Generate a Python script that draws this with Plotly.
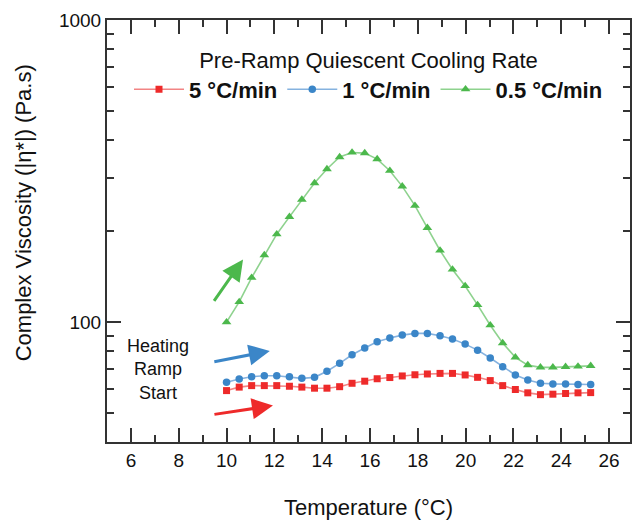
import math
import plotly.graph_objects as go

# ---- data ----
temperature = [10.0, 10.53, 11.05, 11.58, 12.1, 12.63, 13.15, 13.68, 14.2, 14.73,
               15.25, 15.78, 16.3, 16.83, 17.35, 17.88, 18.4, 18.93, 19.45, 19.98,
               20.5, 21.03, 21.55, 22.08, 22.6, 23.13, 23.65, 24.18, 24.7, 25.23]

visc_5 = [59.2, 60.8, 61.5, 61.5, 61.5, 61.2, 60.8, 60.3, 60.3, 61.0,
          62.6, 63.6, 64.8, 65.4, 66.2, 66.8, 67.2, 67.5, 67.5, 66.7,
          65.5, 63.9, 61.5, 59.7, 58.2, 57.4, 57.6, 57.9, 58.2, 58.3]

visc_1 = [63.1, 64.7, 65.8, 66.3, 66.3, 65.8, 65.0, 65.5, 68.6, 72.9,
          77.8, 81.9, 85.9, 88.4, 90.4, 91.6, 91.6, 89.9, 87.7, 84.4,
          80.6, 75.9, 71.0, 66.7, 64.2, 62.6, 62.3, 62.3, 62.0, 62.0]

visc_05 = [99.8, 116.4, 140.1, 166.4, 195.2, 222.8, 254.1, 288.4, 320.9, 351.6,
           364.0, 362.3, 346.2, 316.7, 281.1, 242.7, 204.9, 172.4, 149.2, 131.5,
           113.8, 97.5, 85.1, 76.3, 71.9, 70.7, 70.7, 71.0, 71.2, 71.5]

series_names = ["5 °C/min", "1 °C/min", "0.5 °C/min"]
x_ticks = [6, 8, 10, 12, 14, 16, 18, 20, 22, 24, 26]
y_ticks = [100, 1000]

FONT = "Arial, Liberation Sans, sans-serif"
AX = "#333333"

fig = go.Figure()

styles = [
    (visc_5, "#ee2a2a", "rgba(240,110,110,0.85)", "square", 7),
    (visc_1, "#3b86c8", "rgba(120,170,220,0.9)", "circle", 7.5),
    (visc_05, "#4cb84c", "rgba(130,205,130,0.9)", "triangle-up", 8.5),
]
for name, (vals, mc, lc, sym, sz) in zip(series_names, styles):
    fig.add_trace(go.Scatter(
        x=temperature, y=vals, name=name, mode="lines+markers",
        line=dict(color=lc, width=1.6),
        marker=dict(color=mc, symbol=sym, size=sz, line=dict(width=0)),
    ))

fig.update_layout(
    width=633, height=523,
    margin=dict(l=107, r=1, t=20, b=81),
    plot_bgcolor="white", paper_bgcolor="white",
    font=dict(family=FONT, color="#111111"),
    showlegend=True,
    legend=dict(
        orientation="h", x=0.5, xanchor="center", y=0.953, yanchor="top",
        bgcolor="rgba(0,0,0,0)",
        font=dict(size=22, family=FONT, weight="bold"),
        title=dict(text="Pre-Ramp Quiescent Cooling Rate", side="top center",
                   font=dict(size=22, weight="normal")),
        itemwidth=50, tracegroupgap=0,
    ),
    xaxis=dict(
        range=[5, 26.875], showline=True, linecolor=AX, linewidth=2, mirror="ticks",
        tickmode="array", tickvals=x_ticks, ticktext=[str(v) for v in x_ticks],
        ticks="inside", ticklen=14, tickwidth=2, tickcolor=AX,
        minor=dict(dtick=1, tick0=5, ticks="inside", ticklen=7,
                   tickwidth=2, tickcolor=AX, showgrid=False),
        showgrid=False, zeroline=False,
        tickfont=dict(size=19, color="#111111"),
        title=dict(text="Temperature (°C)", font=dict(size=22), standoff=30),
    ),
    yaxis=dict(
        type="log", range=[math.log10(40), 3.0], showline=True, linecolor=AX, linewidth=2,
        mirror="ticks",
        tickmode="array", tickvals=y_ticks, ticktext=[str(v) for v in y_ticks],
        ticks="inside", ticklen=14, tickwidth=2, tickcolor=AX,
        minor=dict(dtick="D1", ticks="inside", ticklen=7,
                   tickwidth=2, tickcolor=AX, showgrid=False),
        showgrid=False, zeroline=False,
        tickfont=dict(size=19, color="#111111"),
    ),
)

# y-axis title placed as rotated text
fig.add_annotation(
    text="Complex Viscosity (|η*|) (Pa.s)", xref="paper", yref="paper",
    x=(23 - 107) / 525, y=(442 - 213) / 422, textangle=-90, showarrow=False,
    xanchor="center", yanchor="middle", font=dict(size=22, family=FONT, color="#111111"),
)

# Heating ramp start label
fig.add_annotation(
    text="Heating<br>Ramp<br>Start", xref="paper", yref="paper",
    x=(158 - 107) / 525, y=(442 - 369) / 422, showarrow=False,
    xanchor="center", yanchor="middle", align="center",
    font=dict(size=18, family=FONT, color="#111111"),
)

# arrows (head at x/y in data units, tail offset in pixels)
arrows = [
    (10.69, 161.0, -30, 43, "#4cb84c"),
    (11.81, 80.1, -57, 11, "#3b86c8"),
    (11.94, 52.8, -60, 9, "#ee2a2a"),
]
for hx, hy, ax, ay, col in arrows:
    fig.add_annotation(
        x=hx, y=math.log10(hy), xref="x", yref="y", ax=ax, ay=ay,
        text="", showarrow=True, arrowhead=2, arrowsize=1.4, arrowwidth=3,
        arrowcolor=col,
    )

fig.write_html("out.html")
